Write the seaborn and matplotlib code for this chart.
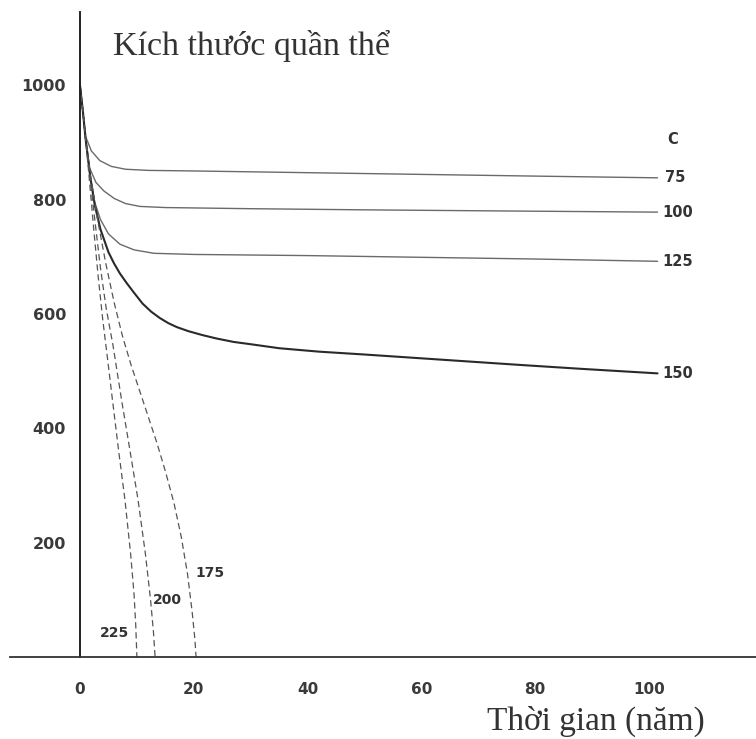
import numpy as np
import pandas as pd
import matplotlib
matplotlib.use("Agg")
import matplotlib.pyplot as plt
import seaborn as sns

# ---- data ----
x_75 = [0, 0.5, 1.0, 2.0, 3.5, 5.5, 8, 12, 20, 40, 60, 80, 101.5]
y_75 = [1000, 955, 910, 885, 868, 858, 853, 851, 850, 847, 844, 841, 838]

x_100 = [0, 0.5, 1.0, 1.7, 2.8, 4.2, 6, 8, 10.5, 15, 30, 50, 75, 101.5]
y_100 = [1000, 955, 905, 855, 830, 815, 802, 793, 788, 786, 784, 782, 780, 778]

x_125 = [0, 0.5, 1.0, 1.8, 2.6, 3.6, 5, 7, 9.5, 13, 20, 40, 60, 80, 101.5]
y_125 = [1000, 955, 905, 840, 795, 765, 740, 722, 712, 706, 704, 702, 699, 696, 692]

x_150 = [0, 0.5, 1.0, 1.8, 2.6, 3.6, 5, 6, 7, 8.2, 9.5, 11, 12.5, 14, 15.5, 17, 19, 21.5,
         24, 27, 30, 35, 42, 50, 59, 68, 77, 88, 101.5]
y_150 = [1000, 955, 905, 840, 790, 748, 708, 688, 671, 654, 637, 618, 604, 593, 584, 577, 570, 563,
         557, 551, 547, 540, 534, 529, 523, 517, 511, 504, 496]

x_175 = [0, 0.5, 1.0, 1.8, 3.0, 4.5, 6.0, 7.5, 9.0, 10.5, 12.0, 13.5, 15.0, 16.5, 17.8, 18.9, 19.7, 20.2, 20.4]
y_175 = [1000, 955, 905, 845, 770, 690, 620, 560, 510, 465, 420, 375, 325, 270, 210, 145, 80, 30, 0]

x_200 = [0, 0.5, 1.0, 1.7, 2.6, 3.6, 4.6, 5.8, 7.3, 8.8, 10.2, 11.5, 12.4, 12.9, 13.2]
y_200 = [1000, 955, 905, 845, 765, 680, 610, 545, 450, 360, 275, 180, 100, 45, 0]

x_225 = [0, 0.5, 1.0, 1.6, 2.4, 3.2, 4.0, 4.8, 5.7, 6.8, 7.9, 8.9, 9.5, 9.8, 10.0]
y_225 = [1000, 955, 905, 840, 750, 665, 590, 525, 450, 360, 275, 180, 110, 55, 0]

series_names = ["75", "100", "125", "150", "175", "200", "225"]
x_ticks = [0, 20, 40, 60, 80, 100]
y_ticks = [200, 400, 600, 800, 1000]

# ---- figure ----
sns.set_style("white")
plt.rcParams["font.family"] = ["DejaVu Sans"]

fig = plt.figure(figsize=(7.56, 7.39), dpi=100)
ax = fig.add_axes([10 / 756, (739 - 657) / 739, 746 / 756, (657 - 12) / 739])

curves = {
    "75": (x_75, y_75), "100": (x_100, y_100), "125": (x_125, y_125),
    "150": (x_150, y_150), "175": (x_175, y_175), "200": (x_200, y_200),
    "225": (x_225, y_225),
}
styles = {
    "75": dict(color="#6a6a6a", lw=1.0, ls="-"),
    "100": dict(color="#6a6a6a", lw=1.0, ls="-"),
    "125": dict(color="#6a6a6a", lw=1.0, ls="-"),
    "150": dict(color="#2a2a2a", lw=1.5, ls="-"),
    "175": dict(color="#555555", lw=0.9, ls=(0, (5, 3))),
    "200": dict(color="#555555", lw=0.9, ls=(0, (5, 3))),
    "225": dict(color="#555555", lw=0.9, ls=(0, (5, 3))),
}
for name in series_names:
    xs, ys = curves[name]
    df = pd.DataFrame({"t": xs, "n": ys})
    st = styles[name]
    sns.lineplot(data=df, x="t", y="n", ax=ax, estimator=None, sort=False,
                 color=st["color"], linewidth=st["lw"], linestyle=st["ls"])

ax.set_xlim(-12.3, 118.8)
ax.set_ylim(0, 1128)

# spines
for s in ["top", "right"]:
    ax.spines[s].set_visible(False)
ax.spines["left"].set_position(("data", 0))
ax.spines["left"].set_color("#222222")
ax.spines["left"].set_linewidth(1.4)
ax.spines["bottom"].set_color("#333333")
ax.spines["bottom"].set_linewidth(1.3)

ax.set_xticks(x_ticks)
ax.set_yticks(y_ticks)
ax.set_xticklabels([str(v) for v in x_ticks])
ax.set_yticklabels([str(v) for v in y_ticks])
ax.tick_params(axis="x", direction="out", length=8, width=1.0, pad=10,
               colors="#333333", labelsize=11)
ax.tick_params(axis="y", direction="out", length=7, width=1.0, pad=3,
               colors="#333333", labelsize=11.5)
for lab in ax.get_xticklabels() + ax.get_yticklabels():
    lab.set_fontweight("bold")
    lab.set_color("#3a3a3a")
ax.set_xlabel("")
ax.set_ylabel("")

# texts
serif = ["Liberation Serif", "DejaVu Serif"]
ax.text(5.8, 1069, "Kích thước quần thể", family=serif, fontsize=24.5,
        color="#333333", ha="left", va="center")
ax.text(109.8, -112, "Thời gian (năm)", family=serif, fontsize=24,
        color="#333333", ha="right", va="center", clip_on=False)

lab_kw = dict(fontsize=10.5, fontweight="bold", color="#333333", va="center")
ax.text(104.2, 905, "C", ha="center", **lab_kw)
ax.text(102.8, 838, "75", ha="left", **lab_kw)
ax.text(102.3, 778, "100", ha="left", **lab_kw)
ax.text(102.3, 692, "125", ha="left", **lab_kw)
ax.text(102.3, 496, "150", ha="left", **lab_kw)
small_kw = dict(fontsize=10, fontweight="bold", color="#333333", va="center")
ax.text(20.3, 147, "175", ha="left", **small_kw)
ax.text(12.8, 100, "200", ha="left", **small_kw)
ax.text(8.6, 42, "225", ha="right", **small_kw)

fig.savefig("out.png", dpi=100)
